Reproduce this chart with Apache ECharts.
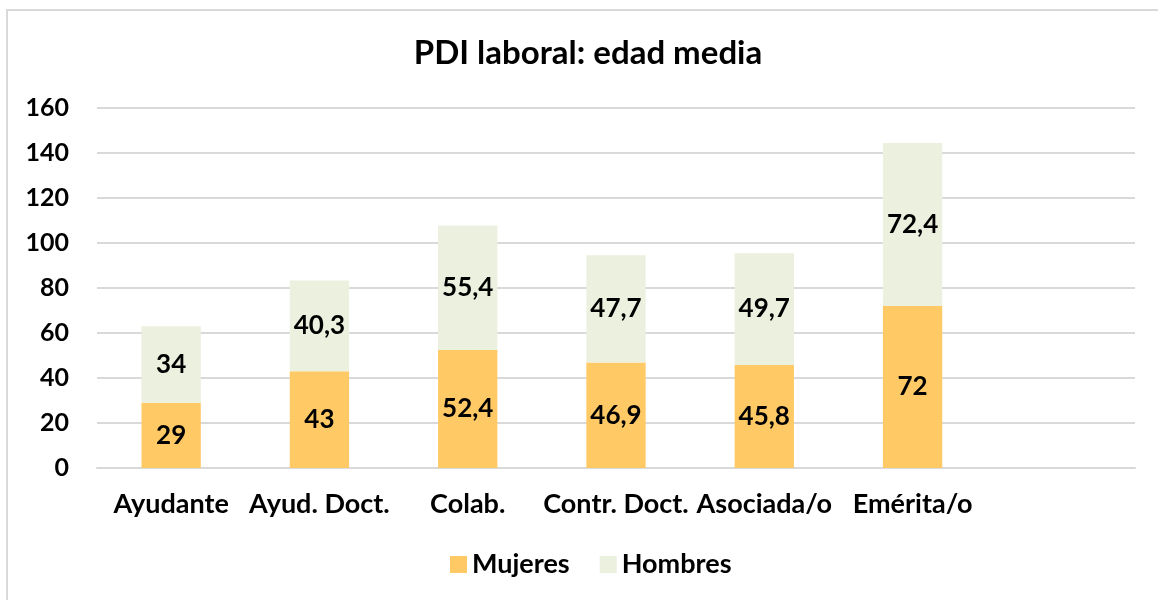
<!DOCTYPE html>
<html>
<head>
<meta charset="utf-8">
<script src="https://cdn.jsdelivr.net/npm/echarts@6/dist/echarts.min.js"></script>
<style>
  html, body { margin: 0; padding: 0; background: #fff; }
  #frame { position: absolute; left: 6px; top: 9px; width: 1160px; height: 600px; border: 2px solid #d9d9d9; box-sizing: border-box; }
  #chart { position: absolute; left: 0; top: 0; width: 1158px; height: 600px; }
</style>
</head>
<body>
<div id="frame"></div>
<div id="chart"></div>
<script>
const categories = ['Ayudante', 'Ayud. Doct.', 'Colab.', 'Contr. Doct.', 'Asociada/o', 'Emérita/o', ''];
const mujeres = [29, 43, 52.4, 46.9, 45.8, 72, null];
const hombres = [34, 40.3, 55.4, 47.7, 49.7, 72.4, null];
const legendNames = ['Mujeres', 'Hombres'];

const font = 'Lato, "Open Sans", sans-serif';
const chart = echarts.init(document.getElementById('chart'));

// comma as decimal separator, like the original
const fmt = p => String(p.value).replace('.', ',');

const option = {
  backgroundColor: 'transparent',
  animation: false,
  title: {
    text: 'PDI laboral: edad media',
    left: 583,
    top: 32,
    textAlign: 'center',
    textStyle: { fontFamily: font, fontWeight: 'bold', fontSize: 33, color: '#000' }
  },
  legend: {
    data: legendNames,
    top: 546,
    left: 445,
    itemWidth: 17,
    itemHeight: 17,
    itemGap: 30,
    icon: 'rect',
    textStyle: { fontFamily: font, fontWeight: 'bold', fontSize: 27, color: '#000' }
  },
  grid: { left: 97, right: 23, top: 108, bottom: 132, containLabel: false },
  xAxis: {
    type: 'category',
    data: categories,
    axisLine: { lineStyle: { color: '#d9d9d9', width: 2 } },
    axisTick: { show: false },
    axisLabel: { interval: 0, margin: 23, fontFamily: font, fontWeight: 'bold', fontSize: 27, color: '#000' }
  },
  yAxis: {
    type: 'value',
    min: 0,
    max: 160,
    interval: 20,
    axisLine: { show: false },
    axisTick: { show: false },
    splitLine: { lineStyle: { color: '#d9d9d9', width: 2 } },
    axisLabel: { margin: 28, fontFamily: font, fontWeight: 'bold', fontSize: 25, color: '#000' }
  },
  series: [
    {
      name: 'Mujeres',
      type: 'bar',
      stack: 'edad',
      data: mujeres,
      barWidth: '40%',
      itemStyle: { color: '#ffca66' },
      label: { show: true, position: 'inside', formatter: fmt, fontFamily: font, fontWeight: 'bold', fontSize: 26, color: '#000' }
    },
    {
      name: 'Hombres',
      type: 'bar',
      stack: 'edad',
      data: hombres,
      barWidth: '40%',
      itemStyle: { color: '#ebf0df' },
      label: { show: true, position: 'inside', formatter: fmt, fontFamily: font, fontWeight: 'bold', fontSize: 26, color: '#000' }
    }
  ]
};

chart.setOption(option);
</script>
</body>
</html>
